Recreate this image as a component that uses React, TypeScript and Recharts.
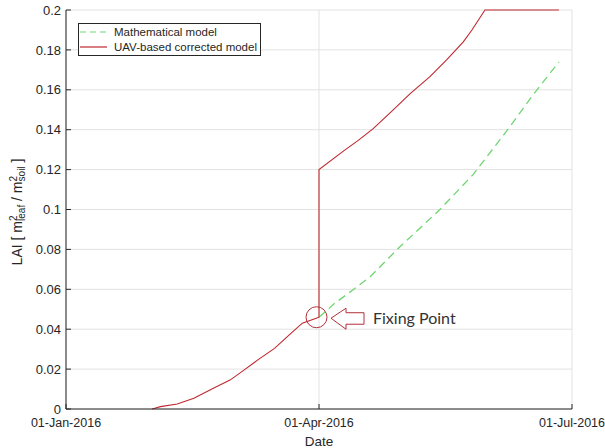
import React from "react";
import {
  LineChart,
  Line,
  XAxis,
  YAxis,
  CartesianGrid,
  Legend,
  ReferenceDot,
} from "recharts";

const FONT = "'Liberation Sans', Arial, Helvetica, sans-serif";
const AXIS = "#262626";
const RED = "#c0282e";
const GREEN = "#6fd66f";

// days counted from 01-Jan-2016
const xTicks = [0, 91, 182];
const xTickLabels = ["01-Jan-2016", "01-Apr-2016", "01-Jul-2016"];
const yTicks = [0, 0.02, 0.04, 0.06, 0.08, 0.1, 0.12, 0.14, 0.16, 0.18, 0.2];

const mathDays = [91, 96.7, 103.2, 109.4, 120.1, 134.5, 146.4, 158.6, 168, 177.3];
const mathLai = [0.046, 0.053, 0.0597, 0.0663, 0.0813, 0.1, 0.1175, 0.1395, 0.1575, 0.174];

const uavDays = [
  31, 34, 40, 46, 53, 59, 64, 69, 75, 81, 85, 90, 91, 91, 100, 105, 110.5, 117.7,
  123.7, 130.9, 136.9, 142.9, 146, 150.7, 177.3,
];
const uavLai = [
  0, 0.0012, 0.0025, 0.0054, 0.0104, 0.0145, 0.0195, 0.0246, 0.0304, 0.038, 0.043,
  0.0455, 0.046, 0.12, 0.1295, 0.1345, 0.1405, 0.1499, 0.158, 0.1666, 0.175, 0.184,
  0.19, 0.2, 0.2,
];

const fixDay = 91;
const fixLai = 0.046;

const mathData = mathDays.map((d, i) => ({ day: d, lai: mathLai[i] }));
const uavData = uavDays.map((d, i) => ({ day: d, lai: uavLai[i] }));

const legendRows = [
  { name: "Mathematical model", color: GREEN, dash: "6 4" },
  { name: "UAV-based corrected model", color: RED, dash: undefined },
];

const LegendBox = () => (
  <div
    style={{
      width: 183,
      height: 33,
      boxSizing: "border-box",
      border: `1px solid ${AXIS}`,
      background: "#fff",
      fontFamily: FONT,
      fontSize: 11.5,
      color: AXIS,
      paddingTop: 1.5,
    }}
  >
    {legendRows.map((r) => (
      <div
        key={r.name}
        style={{ display: "flex", alignItems: "center", height: 14.4, whiteSpace: "nowrap" }}
      >
        <svg width={28} height={10} style={{ marginLeft: 1 }}>
          <line
            x1={0}
            y1={5}
            x2={27}
            y2={5}
            stroke={r.color}
            strokeWidth={1.2}
            strokeDasharray={r.dash}
          />
        </svg>
        <span style={{ marginLeft: 6 }}>{r.name}</span>
      </div>
    ))}
  </div>
);

const YLabel = () => (
  <text
    transform="translate(21.5, 212) rotate(-90)"
    textAnchor="middle"
    fontFamily={FONT}
    fontSize={14}
    fill={AXIS}
  >
    LAI [ m
    <tspan dy={-5} fontSize={10}>2</tspan>
    <tspan dx={-5.5} dy={8} fontSize={10}>leaf</tspan>
    <tspan dy={-3}> / m</tspan>
    <tspan dy={-5} fontSize={10}>2</tspan>
    <tspan dx={-5.5} dy={8} fontSize={10}>soil</tspan>
    <tspan dy={-3}> ]</tspan>
  </text>
);

const FixingPoint = (props: any) => {
  const { cx, cy } = props;
  if (cx == null || cy == null) return null;
  const arrow = [
    [12, 1],
    [27, -9],
    [27, -4.5],
    [45, -4.5],
    [45, 7],
    [27, 7],
    [27, 12],
  ]
    .map(([dx, dy]) => `${cx + dx},${cy + dy}`)
    .join(" ");
  return (
    <g>
      <circle cx={cx - 2.5} cy={cy} r={10.5} fill="none" stroke="#b0303a" strokeWidth={1} />
      <polygon points={arrow} fill="none" stroke="#b0303a" strokeWidth={1} />
      <text
        x={cx + 54}
        y={cy + 6.5}
        fontFamily="Lato, 'Open Sans', sans-serif"
        fontSize={16}
        fill="#333"
      >
        Fixing Point
      </text>
    </g>
  );
};

export default function App() {
  return (
    <div style={{ position: "absolute", left: 0, top: 0, background: "#fff" }}>
      <LineChart width={605} height={448} margin={{ top: 10, right: 33, bottom: 0, left: 0 }}>
        <CartesianGrid stroke="#e2e2e2" strokeWidth={1} />
        <XAxis
          type="number"
          dataKey="day"
          domain={[0, 182]}
          ticks={xTicks}
          interval={0}
          height={39}
          tickFormatter={(v: number) => xTickLabels[xTicks.indexOf(v)] ?? ""}
          tick={{ fill: AXIS, fontSize: 12.5, fontFamily: FONT }}
          tickSize={-5}
          tickMargin={14}
          stroke={AXIS}
          label={{
            value: "Date",
            position: "insideBottom",
            offset: 2,
            fill: AXIS,
            fontSize: 13.5,
            fontFamily: FONT,
          }}
        />
        <YAxis
          type="number"
          domain={[0, 0.2]}
          ticks={yTicks}
          interval={0}
          width={66}
          tickFormatter={(v: number) => String(+v.toFixed(2))}
          tick={{ fill: AXIS, fontSize: 13, fontFamily: FONT }}
          tickSize={-5}
          tickMargin={10}
          stroke={AXIS}
          label={{ content: () => <YLabel /> }}
        />
        <Line
          data={mathData}
          dataKey="lai"
          type="linear"
          stroke={GREEN}
          strokeWidth={1.3}
          strokeDasharray="8 5"
          dot={false}
          isAnimationActive={false}
        />
        <Line
          data={uavData}
          dataKey="lai"
          type="linear"
          stroke={RED}
          strokeWidth={1.1}
          dot={false}
          isAnimationActive={false}
        />
        <ReferenceDot x={fixDay} y={fixLai} shape={FixingPoint} />
        <Legend
          layout="vertical"
          align="center"
          verticalAlign="middle"
          content={<LegendBox />}
          wrapperStyle={{ left: 78, top: 22.5, width: 183, height: 33 }}
        />
      </LineChart>
    </div>
  );
}
